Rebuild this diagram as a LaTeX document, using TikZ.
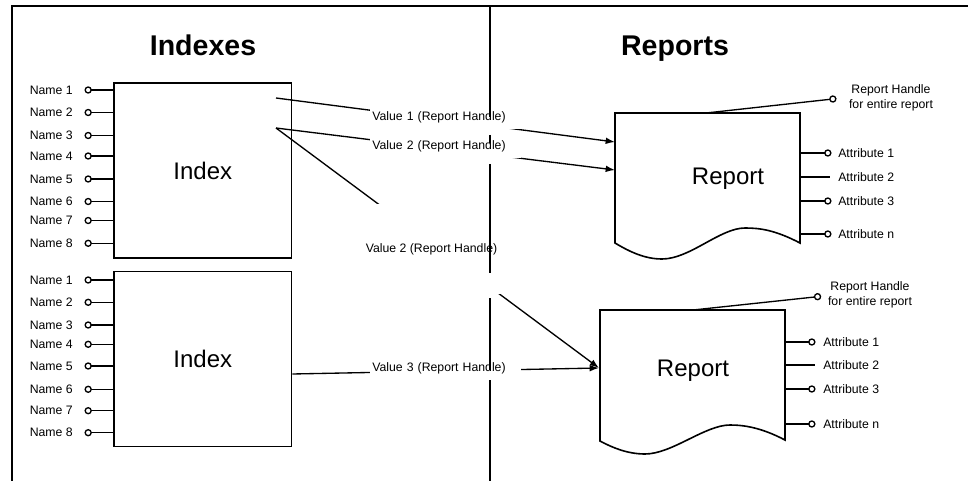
\documentclass[tikz,border=0pt]{standalone}
\usepackage{fontspec}
\setmainfont{Liberation Sans}
\usetikzlibrary{arrows.meta,positioning,calc}

\begin{document}
\begin{tikzpicture}[
    x=0.75pt,y=-0.75pt,
    rule/.style={line width=1.3pt},
    heading/.style={font=\fontsize{21.4}{24}\selectfont\bfseries,anchor=base},
    idxbox/.style={
      draw,
      line width=1.2pt,
      minimum width=133pt,
      minimum height=131pt,
      font=\fontsize{18}{20}\selectfont
    },
    bigtxt/.style={font=\fontsize{18}{20}\selectfont,anchor=base},
    small/.style={font=\fontsize{9.2}{11.6}\selectfont},
    namelbl/.style={small,anchor=east,inner sep=0pt},
    attrlbl/.style={small,anchor=west,inner sep=0pt},
    pin/.style={line width=1pt,-{Circle[open,length=5.5pt,width=5.5pt,line width=1pt]}},
    plain/.style={line width=1pt},
    ptr/.style={line width=1pt,-{Latex[length=7pt,width=5pt]}},
    vlabel/.style={
      small,
      fill=white,
      anchor=west,
      inner xsep=1.5pt,
      inner ysep=5pt,
      text width=110pt,
      align=left
    },
    docshape/.style={draw,line width=1.2pt}
  ]
  \useasboundingbox (0,0) rectangle (968,481);

  % frame and headings
  \draw[rule] (12,481) -- (12,6) -- (968,6);
  \node[heading] (hidx) at (203,55.5) {Indexes};
  \node[heading] (hrep) at (675,55.5) {Reports};

  % index boxes with their names
  \node[idxbox] (idx1) at (202.8,170.5) {Index};
  \node[idxbox] (idx2) at (202.8,359) {Index};
  \foreach \yy [count=\i] in {90,112.5,135.5,156,179,201.5,220.5,243.3} {
    \coordinate (pa\i) at (84.5,\yy);
    \node[namelbl] (na\i) at (73,\yy) {Name \i};
    \draw[pin] (idx1.west |- pa\i) -- (pa\i);
  }
  \foreach \yy [count=\i] in {280,302.3,325,344.3,366,389.3,410.7,432.7} {
    \coordinate (pb\i) at (84.5,\yy);
    \node[namelbl] (nb\i) at (73,\yy) {Name \i};
    \draw[pin] (idx2.west |- pb\i) -- (pb\i);
  }

  % reports
  \draw[docshape] (615,113) -- (800,113) -- (800,243)
    .. controls (775,230) and (760,228) .. (745,228)
    .. controls (720,228) and (690,259) .. (662,259)
    .. controls (645,259) and (630,252) .. (615,243) -- cycle;
  \draw[docshape] (600,310) -- (785,310) -- (785,440)
    .. controls (762,428) and (745,425) .. (730,425)
    .. controls (705,425) and (672,454) .. (645,454)
    .. controls (628,454) and (613,448) .. (600,441) -- cycle;
  \node[bigtxt] (rep1) at (728,185) {Report};
  \node[bigtxt] (rep2) at (693,376) {Report};

  \coordinate (r1top) at (706,113);
  \coordinate (r2top) at (693,310);
  \coordinate (r1e) at (800,113);
  \coordinate (r2e) at (785,310);
  \coordinate (h1) at (836.5,98.6);
  \coordinate (h2) at (821.2,296.3);
  \draw[pin] (r1top) -- (h1);
  \draw[pin] (r2top) -- (h2);
  \node[small,align=center] (hl1) at (891,98) {Report Handle\\for entire report};
  \node[small,align=center] (hl2) at (870,295) {Report Handle\\for entire report};

  \foreach \yy/\t in {153/1,201/3,234/n} {
    \coordinate (a1\t) at (831.5,\yy);
    \draw[pin] (r1e |- a1\t) -- (a1\t);
    \node[attrlbl] (at1\t) at (838,\yy) {Attribute \t};
  }
  \coordinate (a12) at (830,177);
  \draw[plain] (r1e |- a12) -- (a12);
  \node[attrlbl] (at12) at (838,177) {Attribute 2};
  \foreach \yy/\t in {342/1,389/3,424/n} {
    \coordinate (a2\t) at (815.5,\yy);
    \draw[pin] (r2e |- a2\t) -- (a2\t);
    \node[attrlbl] (at2\t) at (823,\yy) {Attribute \t};
  }
  \coordinate (a22) at (815,365);
  \draw[plain] (r2e |- a22) -- (a22);
  \node[attrlbl] (at22) at (823,365) {Attribute 2};

  % value pointers
  \coordinate (s1) at (276,98);
  \coordinate (s2) at (276,128);
  \coordinate (s3y) at (0,374);
  \coordinate (r1a) at (615,142);
  \coordinate (r1b) at (615,170);
  \coordinate (r2a) at (599,368);
  \draw[ptr] (s1) -- (r1a);
  \draw[ptr] (s2) -- (r1b);
  \draw[ptr] (s2) -- (r2a);
  \draw[ptr] (idx2.east |- s3y) -- (r2a);
  \node[vlabel] (v1) at (370,117) {Value 1 (Report Handle)};
  \node[vlabel] (v2) at (370,146) {Value 2 (Report Handle)};
  \node[vlabel] (v3) at (370,368) {Value 3 (Report Handle)};
  \node[small,fill=white,minimum width=101pt,minimum height=67.5pt] (v2b) at (431.5,249) {Value 2 (Report Handle)};

  % divider
  \draw[rule] (490,6) -- (490,117);
  \draw[rule] (490,135) -- (490,143);
  \draw[rule] (490,164) -- (490,273);
  \draw[rule] (490,298) -- (490,370);
  \draw[rule] (490,380) -- (490,481);
\end{tikzpicture}
\end{document}
